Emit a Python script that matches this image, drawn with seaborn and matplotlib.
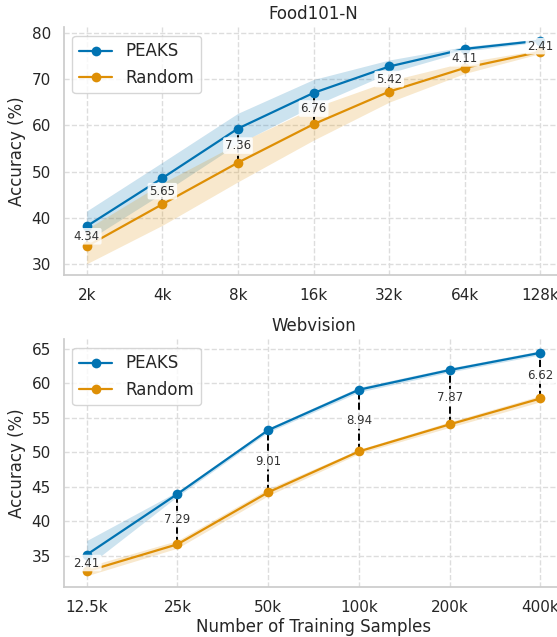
import matplotlib
matplotlib.use("Agg")
import matplotlib.pyplot as plt
import seaborn as sns
import pandas as pd
import numpy as np

# ---------------- data ----------------
food_labels = ["2k", "4k", "8k", "16k", "32k", "64k", "128k"]
food_peaks = [38.2, 48.6, 59.3, 67.0, 72.7, 76.5, 78.3]
food_random = [33.86, 42.95, 51.94, 60.24, 67.28, 72.39, 75.89]
food_peaks_lo = [35.0, 45.3, 56.0, 64.2, 71.3, 76.0, 78.0]
food_peaks_hi = [41.5, 52.0, 62.6, 69.9, 74.1, 77.0, 78.7]
food_random_lo = [30.1, 38.4, 47.8, 56.8, 65.0, 71.2, 75.5]
food_random_hi = [37.6, 47.5, 56.1, 63.8, 69.6, 73.6, 76.3]
food_gaps = ["4.34", "5.65", "7.36", "6.76", "5.42", "4.11", "2.41"]

web_labels = ["12.5k", "25k", "50k", "100k", "200k", "400k"]
web_peaks = [35.15, 43.95, 53.2, 59.05, 61.9, 64.4]
web_random = [32.74, 36.66, 44.19, 50.11, 54.03, 57.78]
web_peaks_lo = [33.4, 43.6, 52.9, 58.7, 61.6, 64.1]
web_peaks_hi = [37.2, 44.3, 53.5, 59.4, 62.2, 64.7]
web_random_lo = [32.1, 36.1, 43.7, 49.8, 53.6, 57.3]
web_random_hi = [33.4, 37.2, 44.7, 50.4, 54.4, 58.2]
web_gaps = ["2.41", "7.29", "9.01", "8.94", "7.87", "6.62"]

methods = ["PEAKS", "Random"]

# ---------------- style ----------------
sns.set_theme(context="notebook", style="whitegrid",
              rc={"grid.linestyle": "--", "grid.color": "#dddddd",
                  "axes.edgecolor": "#cccccc"})
pal = sns.color_palette("colorblind")
colors = {"PEAKS": pal[0], "Random": pal[1]}

fig = plt.figure(figsize=(5.57, 6.37), dpi=100)
ax1 = fig.add_axes([0.115, 0.5683, 0.896, 0.3886])
ax2 = fig.add_axes([0.115, 0.0785, 0.896, 0.3886])


def panel(ax, labels, peaks, rand, plo, phi, rlo, rhi, gaps, title):
    x = np.arange(len(labels))
    df = pd.DataFrame({
        "x": np.concatenate([x, x]),
        "acc": list(peaks) + list(rand),
        "Method": ["PEAKS"] * len(x) + ["Random"] * len(x),
    })
    sns.lineplot(data=df, x="x", y="acc", hue="Method", hue_order=methods,
                 palette=colors, marker="o", markersize=7, linewidth=1.6,
                 markeredgewidth=0, ax=ax, errorbar=None)
    ax.fill_between(x, plo, phi, color=colors["PEAKS"], alpha=0.2, linewidth=0)
    ax.fill_between(x, rlo, rhi, color=colors["Random"], alpha=0.2, linewidth=0)
    for xi, p, r, g in zip(x, peaks, rand, gaps):
        ax.plot([xi, xi], [r, p], color="black", linestyle="--", linewidth=1.4,
                zorder=1.5)
        ax.text(xi, (p + r) / 2, g, ha="center", va="center", fontsize=8.5,
                color="#333333",
                bbox=dict(boxstyle="round,pad=0.15", facecolor="white",
                          edgecolor="none", alpha=0.85), zorder=4)
    ax.set_xticks(x)
    ax.set_xticklabels(labels)
    ax.set_title(title, fontsize=12)
    ax.set_ylabel("Accuracy (%)", fontsize=12)
    ax.set_xlabel("")
    ax.legend(loc="upper left", fontsize=12, frameon=True)
    sns.despine(ax=ax)


panel(ax1, food_labels, food_peaks, food_random, food_peaks_lo, food_peaks_hi,
      food_random_lo, food_random_hi, food_gaps, "Food101-N")
panel(ax2, web_labels, web_peaks, web_random, web_peaks_lo, web_peaks_hi,
      web_random_lo, web_random_hi, web_gaps, "Webvision")
ax1.set_yticks([30, 40, 50, 60, 70, 80])
ax2.set_yticks([35, 40, 45, 50, 55, 60, 65])
ax2.set_xlabel("Number of Training Samples", fontsize=12, labelpad=2)

fig.savefig("out.png", dpi=100)
